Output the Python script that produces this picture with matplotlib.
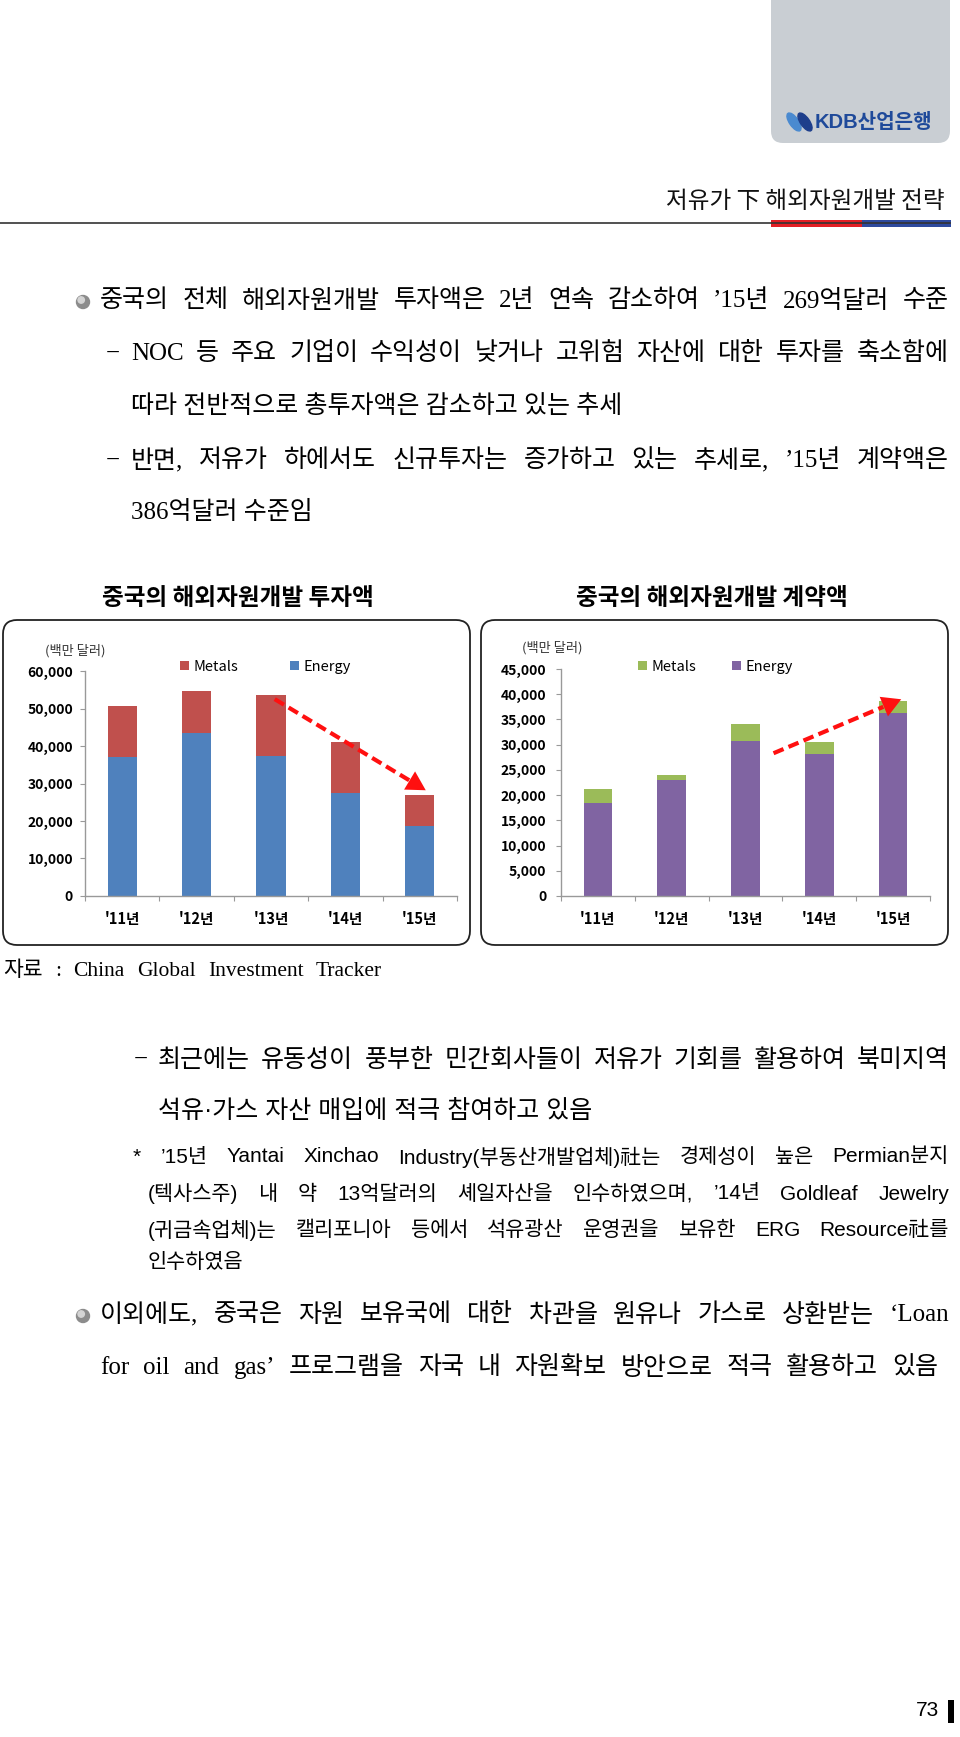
import matplotlib
matplotlib.use('Agg')
import matplotlib.pyplot as plt
from matplotlib.patches import FancyBboxPatch, Rectangle, Circle, Ellipse
from matplotlib.ticker import FuncFormatter
import numpy as np

# data (백만 달러)
years = ["'11년", "'12년", "'13년", "'14년", "'15년"]
invest_energy = [37000, 43600, 37400, 27500, 18600]
invest_metals = [13600, 11000, 16100, 13600, 8300]
contract_energy = [18400, 23000, 30800, 28100, 36200]
contract_metals = [2900, 900, 3200, 2500, 2400]

SERIF_KR = ['Liberation Serif', 'Noto Sans CJK KR']
SANS_KR = ['Liberation Sans', 'Noto Sans CJK KR']
KR = ['Noto Sans CJK KR', 'DejaVu Sans']
BODY = 18

fig = plt.figure(figsize=(9.6, 17.37), dpi=100)
page = fig.add_axes([0, 0, 1, 1])
page.set_xlim(0, 960)
page.set_ylim(1737, 0)
page.axis('off')
renderer = fig.canvas.get_renderer()


def line(x0, y, text, size, fam, x1=None, **kw):
    # justified line of text between x0 and x1 (pixels)
    words = text.split(' ')
    if x1 is None or len(words) < 2:
        page.text(x0, y, text, fontsize=size, family=fam, va='center', ha='left', **kw)
        return
    objs = [page.text(0, y, w, fontsize=size, family=fam, va='center', ha='left', **kw) for w in words]
    ws = [o.get_window_extent(renderer).width for o in objs]
    gap = (x1 - x0 - sum(ws)) / (len(words) - 1)
    x = x0
    for o, w in zip(objs, ws):
        o.set_x(x)
        x += w + gap


def bullet(x, y):
    page.add_patch(Circle((x, y), 6.5, color='#8c8c8c', zorder=3))
    page.add_patch(Circle((x - 1.8, y - 2), 3.2, color='#d4d4d4', zorder=4))


# header
page.add_patch(FancyBboxPatch((771, -30), 179, 173, boxstyle='round,pad=0,rounding_size=12',
                              fc='#C9CED3', ec='none'))
page.add_patch(Ellipse((794, 122), 9, 21, angle=-35, color='#4A8AD0'))
page.add_patch(Ellipse((805, 122), 9, 21, angle=-35, color='#1E3F8C'))
page.text(815, 122, 'KDB산업은행', fontsize=14.5, family=SANS_KR, weight='bold',
          color='#1F4A9A', va='center', ha='left')
page.text(945, 202, '저유가 下 해외자원개발 전략', fontsize=17, family=KR,
          va='center', ha='right', color='#111')
page.plot([0, 950], [223, 223], color='#333333', lw=1.2)
page.add_patch(Rectangle((771, 219.5), 91, 7, color='#E31E24', lw=0))
page.add_patch(Rectangle((862, 219.5), 89, 7, color='#2E4A9E', lw=0))

# first section
bullet(83, 302)
line(100, 301, '중국의 전체 해외자원개발 투자액은 2년 연속 감소하여 ’15년 269억달러 수준', BODY, SERIF_KR, 949)
page.text(106, 354, '−', fontsize=BODY, family=SERIF_KR, va='center')
line(131, 354, 'NOC 등 주요 기업이 수익성이 낮거나 고위험 자산에 대한 투자를 축소함에', BODY, SERIF_KR, 949)
line(131, 407, '따라 전반적으로 총투자액은 감소하고 있는 추세', BODY, SERIF_KR)
page.text(106, 461, '−', fontsize=BODY, family=SERIF_KR, va='center')
line(131, 461, '반면, 저유가 하에서도 신규투자는 증가하고 있는 추세로, ’15년 계약액은', BODY, SERIF_KR, 949)
line(131, 512, '386억달러 수준임', BODY, SERIF_KR)

# chart titles and frames
page.text(238, 598, '중국의 해외자원개발 투자액', fontsize=17, family=KR, weight='bold',
          ha='center', va='center')
page.text(712, 598, '중국의 해외자원개발 계약액', fontsize=17, family=KR, weight='bold',
          ha='center', va='center')
for bx in (3, 481):
    page.add_patch(FancyBboxPatch((bx, 620), 467, 325, boxstyle='round,pad=0,rounding_size=14',
                                  fc='white', ec='#222222', lw=1.3))
page.text(45, 651, '(백만 달러)', fontsize=9.5, family=KR, color='#333', va='center')
page.text(522, 648, '(백만 달러)', fontsize=9.5, family=KR, color='#333', va='center')


def chart(rect, energy, metals, c_energy, c_metals, ymax, step, ypad, leg_x, leg_sp):
    ax = fig.add_axes(rect)
    x = np.arange(len(years))
    ax.bar(x, energy, 0.39, color=c_energy, label='Energy', zorder=2)
    ax.bar(x, metals, 0.39, bottom=energy, color=c_metals, label='Metals', zorder=2)
    ax.set_xlim(-0.5, len(years) - 0.5)
    ax.set_ylim(0, ymax)
    ax.set_yticks(np.arange(0, ymax + 1, step))
    ax.yaxis.set_major_formatter(FuncFormatter(lambda v, p: f'{int(v):,}'))
    ax.set_xticks(x)
    ax.set_xticklabels(years)
    ax.set_xticks(np.arange(-0.5, len(years)), minor=True)
    for s in ('top', 'right'):
        ax.spines[s].set_visible(False)
    for s in ('left', 'bottom'):
        ax.spines[s].set_color('#999999')
        ax.spines[s].set_linewidth(1)
    ax.tick_params(axis='y', length=3.6, width=0.8, color='#999999', pad=ypad)
    ax.tick_params(axis='x', which='major', length=0, pad=11)
    ax.tick_params(axis='x', which='minor', length=3.6, width=0.8, color='#999999')
    for t in ax.get_yticklabels():
        t.set_family(KR)
        t.set_fontweight('bold')
        t.set_fontsize(10)
    for t in ax.get_xticklabels():
        t.set_family(KR)
        t.set_fontweight('bold')
        t.set_fontsize(10.5)
    h, l = ax.get_legend_handles_labels()
    ax.legend(h[::-1], l[::-1], ncol=2, frameon=False, loc='center left',
              bbox_to_anchor=(leg_x / 960, 1 - 667 / 1737), bbox_transform=fig.transFigure,
              borderpad=0, borderaxespad=0, handlelength=0.6, handleheight=0.6,
              handletextpad=0.3, columnspacing=leg_sp, prop={'family': KR, 'size': 10.5})
    return ax


def dashed_arrow(ax, start, end, frac):
    base = (start[0] + frac * (end[0] - start[0]), start[1] + frac * (end[1] - start[1]))
    ax.plot([start[0], base[0]], [start[1], base[1]], color='#FF1010', lw=3,
            dashes=(2.6, 1.3), dash_capstyle='butt', clip_on=False, zorder=5)
    ax.annotate('', xy=end, xytext=base, annotation_clip=False, zorder=5,
                arrowprops=dict(arrowstyle='-|>,head_length=0.8,head_width=0.45',
                                mutation_scale=17, color='#FF1010', lw=0,
                                shrinkA=0, shrinkB=0))


ax1 = chart([85 / 960, 1 - 896 / 1737, 372 / 960, 225 / 1737], invest_energy, invest_metals,
            '#4F81BD', '#C0504D', 60000, 10000, 5.0, 180, 3.6)
ax2 = chart([561 / 960, 1 - 896 / 1737, 369 / 960, 227 / 1737], contract_energy, contract_metals,
            '#8064A2', '#9BBB59', 45000, 5000, 7.0, 638, 2.5)
dashed_arrow(ax1, (2.05, 52500), (4.08, 28200), 0.89)
dashed_arrow(ax2, (2.38, 28300), (4.11, 39000), 0.86)

# source
line(3, 971, '자료 : China Global Investment Tracker', 15.5, SERIF_KR, 382)

# second section
page.text(134, 1060, '−', fontsize=BODY, family=SERIF_KR, va='center')
line(158, 1060, '최근에는 유동성이 풍부한 민간회사들이 저유가 기회를 활용하여 북미지역', BODY, SANS_KR, 949)
line(158, 1111, '석유·가스 자산 매입에 적극 참여하고 있음', BODY, SANS_KR)
line(133, 1157, '* ’15년 Yantai Xinchao Industry(부동산개발업체)社는 경제성이 높은 Permian분지', 15, SANS_KR, 949)
line(148, 1194, '(텍사스주) 내 약 13억달러의 셰일자산을 인수하였으며, ’14년 Goldleaf Jewelry', 15, SANS_KR, 949)
line(148, 1230, '(귀금속업체)는 캘리포니아 등에서 석유광산 운영권을 보유한 ERG Resource社를', 15, SANS_KR, 949)
line(148, 1263, '인수하였음', 15, SANS_KR)

bullet(83, 1316)
line(100, 1315, '이외에도, 중국은 자원 보유국에 대한 차관을 원유나 가스로 상환받는 ‘Loan', BODY, SERIF_KR, 949)
line(100, 1368, 'for oil and gas’ 프로그램을 자국 내 자원확보 방안으로 적극 활용하고 있음', BODY, SERIF_KR, 938)

# page number
page.text(939, 1711, '73', fontsize=15, family=SANS_KR, ha='right', va='center')
page.add_patch(Rectangle((948, 1700), 6, 23, color='black', lw=0))

fig.savefig('out.png', dpi=100)
